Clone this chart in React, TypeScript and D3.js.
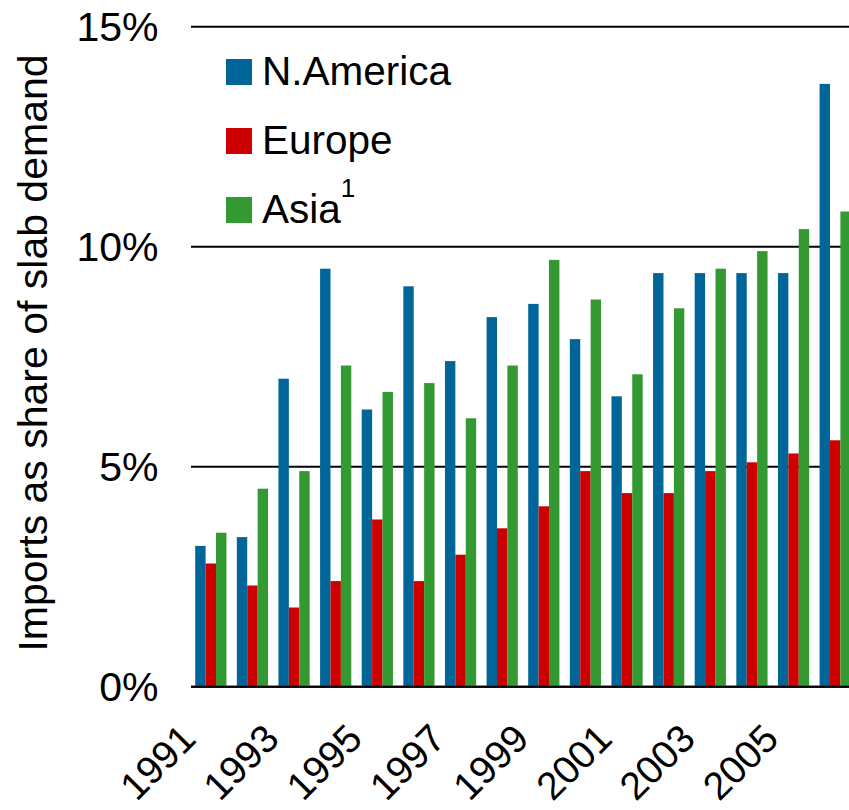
import React from "react";
import * as d3 from "d3";

const years = [1991, 1992, 1993, 1994, 1995, 1996, 1997, 1998, 1999, 2000, 2001, 2002, 2003, 2004, 2005, 2006];
const nAmerica = [3.2, 3.4, 7.0, 9.5, 6.3, 9.1, 7.4, 8.4, 8.7, 7.9, 6.6, 9.4, 9.4, 9.4, 9.4, 13.7];
const europe = [2.8, 2.3, 1.8, 2.4, 3.8, 2.4, 3.0, 3.6, 4.1, 4.9, 4.4, 4.4, 4.9, 5.1, 5.3, 5.6];
const asia = [3.5, 4.5, 4.9, 7.3, 6.7, 6.9, 6.1, 7.3, 9.7, 8.8, 7.1, 8.6, 9.5, 9.9, 10.4, 10.8];
const seriesNames = ["N.America", "Europe", "Asia"];
const seriesColors = ["#006699", "#CC0000", "#339933"];
const yTicks = [0, 5, 10, 15];
const yTitle = "Imports as share of slab demand";

const W = 849;
const H = 810;
const FONT = "Arial, 'Liberation Sans', sans-serif";

export default function App() {
  const seriesValues = [nAmerica, europe, asia];
  const x = d3.scaleBand<number>().domain(years).range([190, 856]).paddingInner(0.25).paddingOuter(0.125);
  const xs = d3.scaleBand<string>().domain(seriesNames).range([0, x.bandwidth()]).padding(0);
  const y = d3.scaleLinear().domain([0, 15]).range([686.7, 26.7]);

  return (
    <svg width={W} height={H} style={{ position: "fixed", left: 0, top: 0, background: "#fff" }} fontFamily={FONT}>
      <rect x={0} y={0} width={W} height={H} fill="#fff" />
      {yTicks.map((t) => (
        <g key={t}>
          <line x1={191} x2={W} y1={y(t)} y2={y(t)} stroke="#000" strokeWidth={2} />
          <text x={158.5} y={y(t) + 14.5} textAnchor="end" fontSize={41} fill="#000">
            {t}%
          </text>
        </g>
      ))}
      {years.map((yr, i) => (
        <g key={yr}>
          {seriesNames.map((s, j) => {
            const v = seriesValues[j][i];
            return (
              <rect
                key={s}
                x={(x(yr) as number) + (xs(s) as number)}
                y={y(v)}
                width={xs.bandwidth()}
                height={y(0) - y(v)}
                fill={seriesColors[j]}
              />
            );
          })}
        </g>
      ))}
      <line x1={191} x2={W} y1={y(0)} y2={y(0)} stroke="#000" strokeWidth={2} />
      {years.filter((yr) => yr % 2 === 1).map((yr) => {
        const cx = (x(yr) as number) + x.bandwidth() / 2 - 13;
        const cy = 741;
        return (
          <text key={yr} x={cx} y={cy} textAnchor="end" fontSize={39} fill="#000" transform={`rotate(-45 ${cx} ${cy})`}>
            {yr}
          </text>
        );
      })}
      <text x={47} y={353} textAnchor="middle" fontSize={41} fill="#000" transform={`rotate(-90 47 353)`}>
        {yTitle}
      </text>
      {seriesNames.map((s, j) => {
        const ly = 59 + j * 69;
        return (
          <g key={s}>
            <rect x={226} y={ly} width={26} height={26} fill={seriesColors[j]} />
            <text x={262} y={ly + 26} fontSize={40.5} fill="#000">
              {s}
              {j === 2 ? (
                <tspan fontSize={26} dy={-26.5}>1</tspan>
              ) : null}
            </text>
          </g>
        );
      })}
    </svg>
  );
}
